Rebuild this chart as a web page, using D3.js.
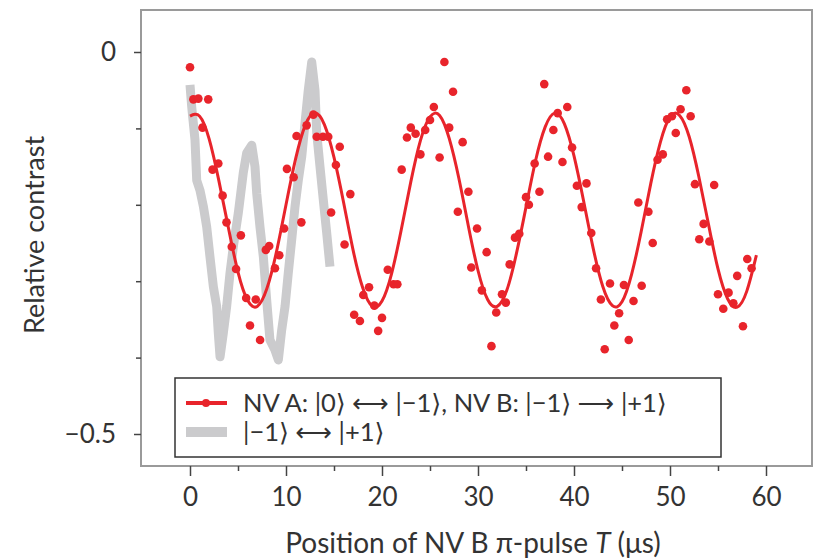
<!DOCTYPE html>
<html>
<head>
<meta charset="utf-8">
<script src="https://cdn.jsdelivr.net/npm/d3@7"></script>
<style>
  html, body { margin: 0; padding: 0; background: #fff; }
  svg text { font-family: Lato, "Open Sans", "DejaVu Sans", sans-serif; fill: #333; }
</style>
</head>
<body>
<svg id="chart" width="819" height="558"></svg>
<script>
// ---- Data ----
// Measured points, NV A |0>↔|-1>, NV B |-1>→|+1>  (T in µs, relative contrast)
const redT = [0.0,0.35,0.87,1.9,1.3,2.95,2.35,3.4,3.8,5.3,4.35,4.8,5.85,6.85,6.25,7.3,7.9,8.25,9.3,8.85,
  9.8,10.1,10.8,11.1,11.6,12.15,12.85,13.2,13.85,14.4,15.6,15.2,16.7,14.7,16.1,18.05,18.65,19.2,17.1,17.7,
  20.0,19.6,20.6,21.2,21.6,22.05,22.6,23.0,23.5,24.5,24.0,25.0,25.4,26.0,26.5,27.4,27.0,28.4,29.0,27.9,
  29.9,30.9,29.3,30.4,31.9,32.5,32.9,31.4,33.3,33.85,34.3,35.0,35.3,35.9,36.4,37.3,36.9,37.85,38.3,39.3,
  38.8,39.8,40.3,41.3,40.8,41.8,42.3,42.8,43.75,44.7,44.2,43.2,45.7,45.2,46.2,47.05,46.7,48.2,47.75,48.7,
  49.25,49.7,50.2,50.6,51.1,51.7,52.15,52.6,54.6,53.5,53.05,54.1,55.0,56.1,55.55,56.6,57.6,57.0,58.05,58.5];
const redV = [-0.020,-0.062,-0.061,-0.062,-0.099,-0.146,-0.154,-0.188,-0.223,-0.240,-0.255,-0.284,-0.322,-0.324,-0.358,-0.377,-0.259,-0.254,-0.266,-0.283,
  -0.231,-0.153,-0.164,-0.110,-0.223,-0.096,-0.082,-0.111,-0.111,-0.111,-0.124,-0.148,-0.186,-0.210,-0.252,-0.318,-0.308,-0.332,-0.344,-0.352,
  -0.348,-0.365,-0.285,-0.304,-0.304,-0.154,-0.112,-0.099,-0.107,-0.102,-0.134,-0.089,-0.072,-0.138,-0.013,-0.052,-0.099,-0.118,-0.183,-0.209,
  -0.231,-0.262,-0.282,-0.312,-0.341,-0.317,-0.328,-0.385,-0.278,-0.243,-0.238,-0.190,-0.200,-0.146,-0.183,-0.137,-0.042,-0.102,-0.080,-0.072,
  -0.144,-0.125,-0.175,-0.172,-0.203,-0.237,-0.283,-0.324,-0.303,-0.342,-0.358,-0.389,-0.377,-0.305,-0.326,-0.306,-0.197,-0.250,-0.209,-0.141,
  -0.134,-0.088,-0.084,-0.106,-0.075,-0.050,-0.084,-0.173,-0.174,-0.225,-0.245,-0.248,-0.317,-0.315,-0.336,-0.329,-0.359,-0.293,-0.271,-0.283];

// Fitted curve, read at 1 µs steps
const fitT = d3.range(0, 60, 1);
const fitV = [-0.084,-0.084,-0.114,-0.168,-0.230,-0.288,-0.325,-0.333,-0.310,-0.262,
  -0.200,-0.140,-0.096,-0.080,-0.095,-0.138,-0.197,-0.260,-0.309,-0.333,
  -0.326,-0.290,-0.233,-0.170,-0.116,-0.085,-0.083,-0.113,-0.165,-0.228,
  -0.286,-0.324,-0.333,-0.312,-0.264,-0.203,-0.142,-0.098,-0.080,-0.094,
  -0.136,-0.195,-0.257,-0.307,-0.332,-0.327,-0.291,-0.235,-0.172,-0.118,
  -0.085,-0.083,-0.111,-0.163,-0.225,-0.284,-0.323,-0.334,-0.313,-0.266];

// Grey trace |-1>↔|+1>
const greyT = [0.0,0.18,0.52,0.70,1.04,1.39,1.74,2.08,2.43,2.78,2.95,3.13,3.47,3.82,4.17,4.51,5.03,5.55,5.91,6.43,
  6.77,6.95,7.29,7.64,7.99,8.33,8.85,9.20,9.55,9.90,10.24,10.59,10.94,11.28,11.64,11.98,12.32,12.68,13.02,13.20,
  13.54,13.89,14.24,14.58];
const greyV = [-0.043,-0.072,-0.115,-0.168,-0.181,-0.202,-0.229,-0.268,-0.307,-0.333,-0.368,-0.399,-0.368,-0.333,-0.289,-0.255,-0.211,-0.158,-0.132,-0.122,
  -0.150,-0.185,-0.229,-0.268,-0.325,-0.377,-0.390,-0.403,-0.364,-0.333,-0.289,-0.246,-0.202,-0.168,-0.137,-0.093,-0.050,-0.013,-0.050,-0.106,
  -0.150,-0.194,-0.237,-0.281];

const xTicks = [0, 10, 20, 30, 40, 50, 60];
const xMinorTicks = [5, 15, 25, 35, 45, 55];
const yTicks = [0, -0.5];
const yMinorTicks = [-0.1, -0.2, -0.3, -0.4];
const legendLabels = ["NV A: |0\u27E9 \u27F7 |\u22121\u27E9, NV B: |\u22121\u27E9 \u27F6 |+1\u27E9", "|\u22121\u27E9 \u27F7 |+1\u27E9"];

// ---- Drawing ----
const RED = "#e8242b", GREY = "#cbcbcd";
const svg = d3.select("#chart");
const x = d3.scaleLinear().domain([0, 60]).range([190, 766]);
const y = d3.scaleLinear().domain([-0.5, 0]).range([434, 52]);
const frame = {left: 141, top: 10, right: 812, bottom: 466};

// frame
svg.append("rect").attr("x", frame.left).attr("y", frame.top)
  .attr("width", frame.right - frame.left).attr("height", frame.bottom - frame.top)
  .attr("fill", "none").attr("stroke", "#9a9a9a").attr("stroke-width", 2);

// x axis
const xAxis = d3.axisBottom(x).tickValues(xTicks).tickSize(10).tickPadding(12).tickFormat(d3.format("d"));
const gx = svg.append("g").attr("transform", `translate(0,${frame.bottom})`).call(xAxis);
gx.select(".domain").remove();
gx.selectAll("line").attr("stroke", "#444").attr("stroke-width", 1.5);
gx.selectAll("text").attr("font-size", 26).attr("fill", "#333").style("font-family", "Lato, sans-serif");
const gxm = svg.append("g").attr("transform", `translate(0,${frame.bottom})`)
  .call(d3.axisBottom(x).tickValues(xMinorTicks).tickSize(5).tickFormat(""));
gxm.select(".domain").remove();
gxm.selectAll("line").attr("stroke", "#444").attr("stroke-width", 1.5);

// y axis
const yAxis = d3.axisLeft(y).tickValues(yTicks).tickSize(7).tickPadding(18)
  .tickFormat(d => d === 0 ? "0" : "\u2212" + d3.format(".1f")(-d));
const gy = svg.append("g").attr("transform", `translate(${frame.left},0)`).call(yAxis);
gy.select(".domain").remove();
gy.selectAll("line").attr("stroke", "#444").attr("stroke-width", 1.5);
gy.selectAll("text").attr("font-size", 26).attr("fill", "#333").style("font-family", "Lato, sans-serif");
const gym = svg.append("g").attr("transform", `translate(${frame.left},0)`)
  .call(d3.axisLeft(y).tickValues(yMinorTicks).tickSize(5).tickFormat(""));
gym.select(".domain").remove();
gym.selectAll("line").attr("stroke", "#444").attr("stroke-width", 1.5);

// grey trace
const greyData = greyT.map((t, i) => [t, greyV[i]]);
svg.append("path").datum(greyData)
  .attr("d", d3.line().x(d => x(d[0])).y(d => y(d[1])))
  .attr("fill", "none").attr("stroke", GREY).attr("stroke-width", 9).attr("stroke-linejoin", "round");

// fit curve
const fitData = fitT.map((t, i) => [t, fitV[i]]);
svg.append("path").datum(fitData)
  .attr("d", d3.line().curve(d3.curveNatural).x(d => x(d[0])).y(d => y(d[1])))
  .attr("fill", "none").attr("stroke", RED).attr("stroke-width", 3);

// points
const redData = redT.map((t, i) => [t, redV[i]]);
svg.append("g").selectAll("circle").data(redData).join("circle")
  .attr("cx", d => x(d[0])).attr("cy", d => y(d[1])).attr("r", 4.3).attr("fill", RED);

// legend
const lg = svg.append("g");
lg.append("rect").attr("x", 175).attr("y", 378).attr("width", 546).attr("height", 79)
  .attr("fill", "#fff").attr("stroke", "#333").attr("stroke-width", 1.5);
lg.append("line").attr("x1", 186).attr("x2", 227).attr("y1", 403).attr("y2", 403)
  .attr("stroke", RED).attr("stroke-width", 4);
lg.append("circle").attr("cx", 206).attr("cy", 403).attr("r", 4).attr("fill", RED);
lg.append("line").attr("x1", 186).attr("x2", 227).attr("y1", 432).attr("y2", 432)
  .attr("stroke", GREY).attr("stroke-width", 10);
lg.selectAll("text.lab").data(legendLabels).join("text").attr("class", "lab")
  .attr("x", 243).attr("y", (d, i) => 412 + i * 29)
  .attr("font-size", 25.5).text(d => d);

// axis titles
svg.append("text").attr("transform", "translate(44,235) rotate(-90)")
  .attr("text-anchor", "middle").attr("font-size", 27).text("Relative contrast");
const xt = svg.append("text").attr("x", 473).attr("y", 553).attr("text-anchor", "middle").attr("font-size", 28);
xt.append("tspan").text("Position of NV B \u03C0-pulse ");
xt.append("tspan").attr("font-style", "italic").text("T");
xt.append("tspan").text(" (\u03BCs)");
</script>
</body>
</html>
